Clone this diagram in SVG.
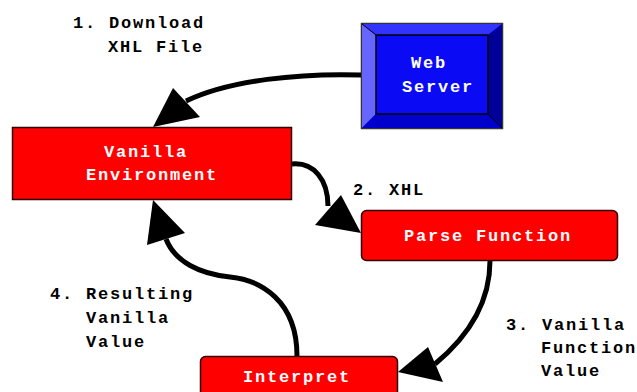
<svg xmlns="http://www.w3.org/2000/svg" width="637" height="392" viewBox="0 0 637 392">
<defs>
<style>
.box{fill:#ff0000;stroke:#300000;stroke-width:1.5}
.wt{font-family:"Liberation Mono","Courier New",monospace;font-size:17px;font-weight:bold;fill:#ffffff;letter-spacing:1.8px}
.bt{font-family:"Liberation Mono","Courier New",monospace;font-size:17px;font-weight:bold;fill:#000000;letter-spacing:1.8px}
.conn{fill:none;stroke:#000000;stroke-width:5}
.head{fill:#000000}
</style>
</defs>
<rect width="637" height="392" fill="#ffffff"/>
<g id="connectors">
<path class="conn" d="M362,75 C300,73 230,80 186,101"/>
<polygon class="head" points="173,88 200,117 153,127"/>
<path class="conn" d="M292,164 C314,162 328,180 328,206"/>
<polygon class="head" points="341,195 315,225 361,233"/>
<path class="conn" d="M490,261 C490,300 470,335 435,364"/>
<polygon class="head" points="428,347 443,382 398,372"/>
<path class="conn" d="M297,356 C297,300 260,280 230,277 C200,274 175,262 166,239"/>
<polygon class="head" points="147,245 185,233 153,200"/>
</g>
<g id="label1">
<text class="bt" x="73" y="28">1. Download</text>
<text class="bt" x="108" y="52">XHL File</text>
</g>
<g id="label2">
<text class="bt" x="353" y="195">2. XHL</text>
</g>
<g id="label3">
<text class="bt" x="506" y="330">3. Vanilla</text>
<text class="bt" x="541" y="353">Function</text>
<text class="bt" x="541" y="376">Value</text>
</g>
<g id="label4">
<text class="bt" x="50" y="299">4. Resulting</text>
<text class="bt" x="86" y="323">Vanilla</text>
<text class="bt" x="86" y="347">Value</text>
</g>
<g id="web-server">
<rect x="361.5" y="23.5" width="141" height="105" fill="#0000ff" stroke="#333333" stroke-width="1.5"/>
<polygon points="362,24 502,24 488,35 376,35" fill="#3333ff"/>
<polygon points="362,24 376,35 376,114 362,128" fill="#6666ff"/>
<polygon points="502,24 502,128 488,114 488,35" fill="#000099"/>
<polygon points="362,128 376,114 488,114 502,128" fill="#0000cc"/>
<rect x="376" y="35" width="112" height="79" fill="#0a0af5" stroke="#000000" stroke-width="1.5"/>
<line x1="362" y1="24" x2="376" y2="35" stroke="#000000" stroke-width="1"/>
<line x1="502" y1="128" x2="488" y2="114" stroke="#000000" stroke-width="1"/>
<text class="wt" x="411" y="68">Web</text>
<text class="wt" x="402" y="92">Server</text>
</g>
<g id="vanilla-environment">
<rect class="box" x="12.5" y="127.5" width="279" height="72"/>
<text class="wt" x="104" y="157">Vanilla</text>
<text class="wt" x="86" y="180">Environment</text>
</g>
<g id="parse-function">
<rect class="box" x="361.5" y="210.5" width="256" height="50" rx="5"/>
<text class="wt" x="404" y="241">Parse Function</text>
</g>
<g id="interpret">
<rect class="box" x="200.5" y="356.5" width="197" height="50" rx="5"/>
<text class="wt" x="243" y="382">Interpret</text>
</g>
</svg>
